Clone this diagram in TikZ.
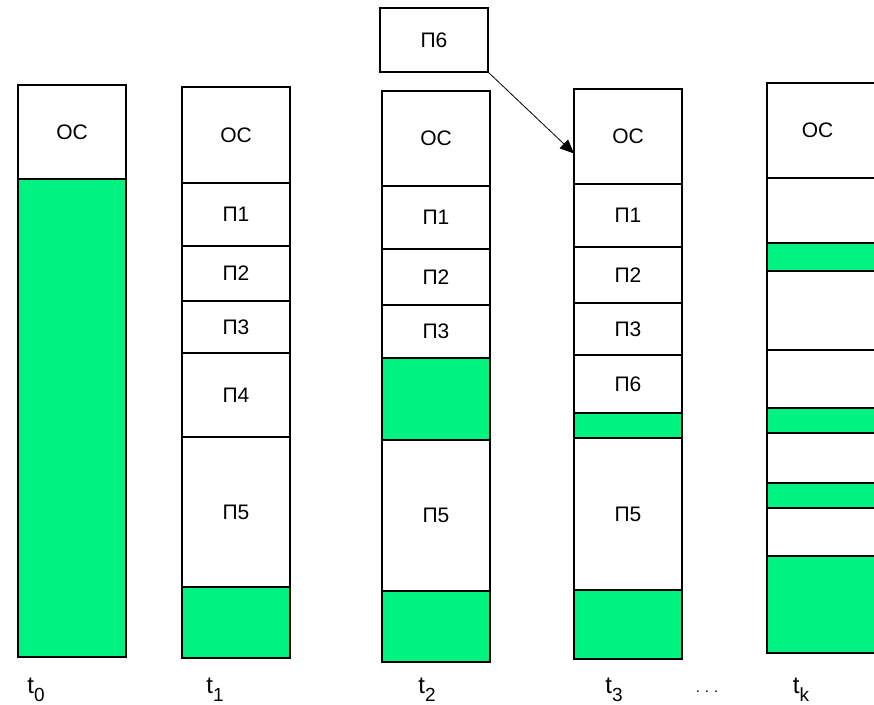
\documentclass[tikz,border=0pt]{standalone}
\usepackage{fontspec}
\setmainfont{Liberation Sans}
\usetikzlibrary{arrows.meta,positioning}
\definecolor{freegreen}{RGB}{0,242,128}
\newcommand{\tlab}[1]{t\raisebox{-0.6ex}{\fontsize{19}{21}\selectfont #1}}

\begin{document}
\begin{tikzpicture}[x=1pt,y=-1pt,>={Triangle[length=14pt,width=12pt]},node distance=0pt,
  seg/.style={draw,line width=1.3pt,minimum width=108pt,inner sep=0pt,outer sep=0pt,
    font=\fontsize{21}{24}\selectfont},
  free/.style={seg,fill=freegreen},
  tick/.style={font=\fontsize{24}{26}\selectfont}]

\clip (0,0) rectangle (874,704);

\node[seg,anchor=north west,minimum height=94pt] (c0os) at (18,85) {ОС};
\node[free,minimum height=478pt,below=of c0os] (c0f) {};

\node[seg,anchor=north west,minimum height=96pt] (c1os) at (182,87) {ОС};
\node[seg,minimum height=63pt,below=of c1os] (c1p1) {П1};
\node[seg,minimum height=55pt,below=of c1p1] (c1p2) {П2};
\node[seg,minimum height=52pt,below=of c1p2] (c1p3) {П3};
\node[seg,minimum height=84pt,below=of c1p3] (c1p4) {П4};
\node[seg,minimum height=150pt,below=of c1p4] (c1p5) {П5};
\node[free,minimum height=71pt,below=of c1p5] (c1f) {};

\node[seg,minimum height=64pt,anchor=north west] (p6) at (380,8) {П6};

\node[seg,anchor=north west,minimum height=95pt] (c2os) at (382,91) {ОС};
\node[seg,minimum height=63pt,below=of c2os] (c2p1) {П1};
\node[seg,minimum height=56pt,below=of c2p1] (c2p2) {П2};
\node[seg,minimum height=53pt,below=of c2p2] (c2p3) {П3};
\node[free,minimum height=82pt,below=of c2p3] (c2f1) {};
\node[seg,minimum height=151pt,below=of c2f1] (c2p5) {П5};
\node[free,minimum height=71pt,below=of c2p5] (c2f2) {};

\node[seg,anchor=north west,minimum height=95pt] (c3os) at (574,89) {ОС};
\node[seg,minimum height=63pt,below=of c3os] (c3p1) {П1};
\node[seg,minimum height=56pt,below=of c3p1] (c3p2) {П2};
\node[seg,minimum height=52pt,below=of c3p2] (c3p3) {П3};
\node[seg,minimum height=58pt,below=of c3p3] (c3p6) {П6};
\node[free,minimum height=25pt,below=of c3p6] (c3f1) {};
\node[seg,minimum height=152pt,below=of c3f1] (c3p5) {П5};
\node[free,minimum height=69pt,below=of c3p5] (c3f2) {};

\node[seg,anchor=north west,minimum width=115pt,minimum height=95pt] (ckos) at (767,83) {\hspace*{-14pt}ОС};
\node[seg,minimum width=115pt,minimum height=65pt,below=of ckos] (ck1) {};
\node[free,minimum width=115pt,minimum height=28pt,below=of ck1] (ck2) {};
\node[seg,minimum width=115pt,minimum height=79pt,below=of ck2] (ck3) {};
\node[seg,minimum width=115pt,minimum height=58pt,below=of ck3] (ck4) {};
\node[free,minimum width=115pt,minimum height=25pt,below=of ck4] (ck5) {};
\node[seg,minimum width=115pt,minimum height=50pt,below=of ck5] (ck6) {};
\node[free,minimum width=115pt,minimum height=25pt,below=of ck6] (ck7) {};
\node[seg,minimum width=115pt,minimum height=48pt,below=of ck7] (ck8) {};
\node[free,minimum width=115pt,minimum height=97pt,below=of ck8] (ck9) {};

\draw[->,line width=0.8pt] (p6.south east) -- ([yshift=-17pt]c3os.west);

\node[tick] (t0) at (36,690) {\tlab{0}};
\node[tick] (t1) at (215,690) {\tlab{1}};
\node[tick] (t2) at (427,690) {\tlab{2}};
\node[tick] (t3) at (614,690) {\tlab{3}};
\node[tick] (dots) at (707,692) {\fontsize{15}{17}\selectfont .\,\,.\,\,.};
\node[tick] (tk) at (801,690) {\tlab{k}};

\end{tikzpicture}
\end{document}
